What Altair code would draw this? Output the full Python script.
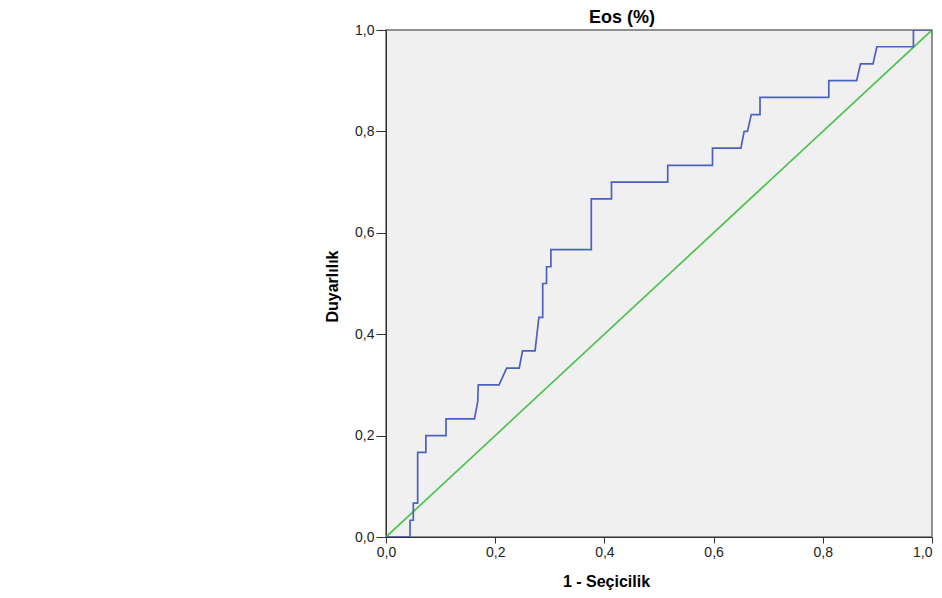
import altair as alt
import pandas as pd

# ROC curve (1 - specificity, sensitivity)
fpr = [0.0, 0.044, 0.044, 0.050, 0.050, 0.058, 0.058, 0.073, 0.073, 0.110, 0.110,
       0.162, 0.168, 0.169, 0.207, 0.221, 0.244, 0.250, 0.273, 0.280, 0.287, 0.287,
       0.294, 0.294, 0.302, 0.302, 0.376, 0.376, 0.413, 0.413, 0.516, 0.516, 0.598,
       0.598, 0.650, 0.656, 0.662, 0.669, 0.685, 0.685, 0.811, 0.811, 0.862, 0.869,
       0.892, 0.899, 0.966, 0.966, 1.0]
tpr = [0.0, 0.0, 0.033, 0.033, 0.067, 0.067, 0.167, 0.167, 0.200, 0.200, 0.233,
       0.233, 0.267, 0.300, 0.300, 0.333, 0.333, 0.367, 0.367, 0.433, 0.433, 0.500,
       0.500, 0.533, 0.533, 0.567, 0.567, 0.667, 0.667, 0.700, 0.700, 0.733, 0.733,
       0.767, 0.767, 0.800, 0.800, 0.833, 0.833, 0.867, 0.867, 0.900, 0.900, 0.933,
       0.933, 0.967, 0.967, 1.0, 1.0]
ref_x = [0.0, 1.0]
ref_y = [0.0, 1.0]
tick_values = [0.0, 0.2, 0.4, 0.6, 0.8, 1.0]
chart_title = ["Eos (%)"]

roc = pd.DataFrame({"x": fpr, "y": tpr, "i": list(range(len(fpr)))})
ref = pd.DataFrame({"x": ref_x, "y": ref_y, "i": [0, 1]})
ttl = pd.DataFrame({"t": chart_title})

FONT = "Liberation Sans"

xscale = alt.Scale(domain=[0, 1], nice=False, zero=False)
yscale = alt.Scale(domain=[0, 1], nice=False, zero=False)

xaxis = alt.Axis(
    values=tick_values, labelExpr="replace(format(datum.value, '.1f'), '.', ',')",
    title="1 - Seçicilik", titleFont=FONT, titleFontSize=16, titleFontWeight="bold",
    titleColor="#000000", titleX=220, titleY=49, titleBaseline="alphabetic",
    titleAlign="center", labelFont=FONT, labelFontSize=14, labelColor="#222222",
    labelAlign={"condition": {"test": "datum.value >= 1", "value": "right"}, "value": "center"},
    tickSize=6, tickColor="#333333", domainColor="#333333", labelPadding=2,
    grid=False, labelFlush=False,
)
yaxis = alt.Axis(
    values=tick_values, labelExpr="replace(format(datum.value, '.1f'), '.', ',')",
    title="Duyarlılık", titleFont=FONT, titleFontSize=16, titleFontWeight="bold",
    titleColor="#000000", titleX=-49, titleY=256, titleAngle=270,
    titleBaseline="alphabetic", titleAlign="center", labelFont=FONT,
    labelFontSize=14, labelColor="#222222", tickSize=10, tickColor="#333333",
    domainColor="#333333", labelPadding=2, grid=False, labelFlush=False,
)

diag = alt.Chart(ref).mark_line(color="#4DC24D", strokeWidth=1.7, clip=True).encode(
    x=alt.X("x:Q", scale=xscale, axis=xaxis),
    y=alt.Y("y:Q", scale=yscale, axis=yaxis),
    order="i:Q",
)
curve = alt.Chart(roc).mark_line(color="#4A62BE", strokeWidth=1.7, clip=True).encode(
    x=alt.X("x:Q", scale=xscale),
    y=alt.Y("y:Q", scale=yscale),
    order="i:Q",
)
title_mark = alt.Chart(ttl).mark_text(
    font=FONT, fontSize=18, fontWeight="bold", color="#000000",
    align="center", baseline="alphabetic",
).encode(
    text="t:N",
    x=alt.value(236),
    y=alt.value(-7),
)

chart = alt.layer(diag, curve, title_mark).properties(
    width=546,
    height=507,
    autosize=alt.AutoSizeParams(type="none"),
    padding={"left": 378, "top": 22, "right": 2, "bottom": 53},
).configure_view(
    fill="#F0F0F0", stroke="#6E6E6E", strokeWidth=1.5,
)

chart.save("out.html", embed_options={"renderer": "svg", "actions": False})
